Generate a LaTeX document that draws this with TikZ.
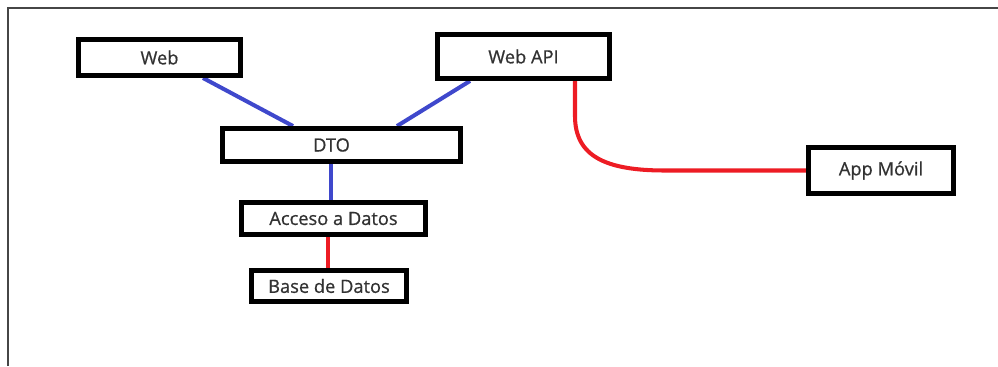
\documentclass[tikz,border=0pt]{standalone}
\usepackage{fontspec}
\newfontfamily\labelfont[FakeBold=0.7]{Open Sans}
\usepackage{xcolor}
\definecolor{linkblue}{RGB}{63,72,204}
\definecolor{linkred}{RGB}{237,28,36}
\definecolor{labelgray}{RGB}{50,50,50}
\definecolor{framegray}{RGB}{70,70,70}
\usepackage{tikz}
\usetikzlibrary{positioning, calc, backgrounds}

\begin{document}
\begin{tikzpicture}[
        x=0.02cm, y=-0.02cm,
        layer/.style={rectangle, draw=black, line width=2.8pt, fill=white, inner sep=0pt,
            minimum width=#1, font=\labelfont\fontsize{10.4}{12}\selectfont, text=labelgray},
        bluelink/.style={linkblue, line width=2.3pt},
        redlink/.style={linkred, line width=2.3pt}
    ]
        % canvas and the thin frame on top and left
        \useasboundingbox (0,0) rectangle (998,366);
        \draw[framegray, line width=0.9pt] (8,366) -- (8,8) -- (998,8);

        \node[layer=3.24cm, minimum height=0.72cm] (web) at (159.5,57.5) {Web};
        \node[layer=3.44cm, minimum height=0.88cm] (api) at (523.5,56.5) {Web API};
        \node[layer=4.76cm, minimum height=0.66cm] (dto) at (341.5,145) {\hspace*{-0.4cm}DTO};
        \node[layer=3.68cm, minimum height=0.64cm] (acceso) at (333.5,218.5) {Acceso a Datos};
        \node[layer=3.10cm, minimum height=0.62cm] (base) at (329,286) {Base de Datos};
        \node[layer=2.90cm, minimum height=0.92cm] (app) at (881,170.5) {App Móvil};

        % links sit behind the boxes
        \begin{scope}[on background layer]
        \draw[bluelink] ([xshift=0.87cm]web.south) -- ([xshift=-0.97cm]dto.north);
        \draw[bluelink] ([xshift=-1.07cm]api.south) -- ([xshift=1.11cm]dto.north);
        \draw[bluelink] ([xshift=-0.21cm]dto.south) -- ([xshift=-0.21cm]dto.south |- acceso.north);
        \draw[redlink] ([xshift=-0.11cm]acceso.south) -- ([xshift=-0.11cm]acceso.south |- base.north);
        \draw[redlink] ([xshift=1.03cm]api.south) -- ++(0,35)
            .. controls +(0,40) and +(-60,0) .. ($(app.west)+(-141,0)$) -- (app.west);
        \end{scope}
    \end{tikzpicture}
\end{document}
